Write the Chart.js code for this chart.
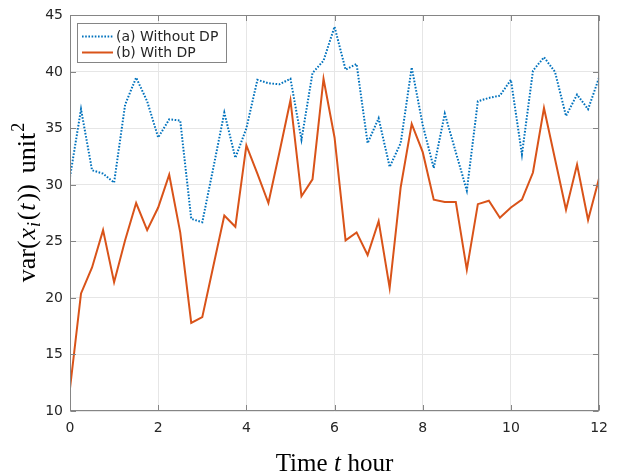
<!DOCTYPE html>
<html>
<head>
<meta charset="utf-8">
<script src="https://cdn.jsdelivr.net/npm/chart.js@4/dist/chart.umd.min.js"></script>
<style>
  html, body { margin: 0; padding: 0; background: #fff; }
  #wrap { width: 617px; height: 476px; }
</style>
</head>
<body>
<div id="wrap"><canvas id="varChart"></canvas></div>
<script>
// time in hours (one sample every 15 min)
const hours = [0, 0.25, 0.5, 0.75, 1, 1.25, 1.5, 1.75, 2, 2.25, 2.5, 2.75, 3, 3.25, 3.5, 3.75,
  4, 4.25, 4.5, 4.75, 5, 5.25, 5.5, 5.75, 6, 6.25, 6.5, 6.75, 7, 7.25, 7.5, 7.75,
  8, 8.25, 8.5, 8.75, 9, 9.25, 9.5, 9.75, 10, 10.25, 10.5, 10.75, 11, 11.25, 11.5, 11.75, 12];

const withoutDP = [30.7, 36.7, 31.3, 31.0, 30.2, 37.1, 39.5, 37.4, 34.2, 35.8, 35.7, 27.0, 26.7, 31.5, 36.4, 32.4,
  35.0, 39.3, 39.0, 38.9, 39.4, 34.0, 39.9, 41.0, 44.0, 40.2, 40.7, 33.7, 35.9, 31.6, 33.7, 40.4,
  35.3, 31.5, 36.3, 32.9, 29.5, 37.4, 37.7, 37.9, 39.3, 32.7, 40.1, 41.3, 40.0, 36.1, 38.0, 36.7, 39.5];

const withDP = [12.0, 20.4, 22.7, 26.0, 21.4, 25.1, 28.4, 26.0, 28.0, 30.9, 25.8, 17.8, 18.3, 22.8, 27.3, 26.3,
  33.5, 31.0, 28.4, 32.9, 37.5, 29.0, 30.5, 39.4, 34.2, 25.1, 25.8, 23.8, 26.8, 20.9, 29.8, 35.4,
  32.9, 28.7, 28.5, 28.5, 22.5, 28.3, 28.6, 27.1, 28.0, 28.7, 31.1, 36.8, 32.3, 27.8, 31.8, 26.9, 30.6];

const seriesLabels = ['(a) Without DP', '(b) With DP'];
const xTicks = [0, 2, 4, 6, 8, 10, 12];
const yTicks = [10, 15, 20, 25, 30, 35, 40, 45];

const BLUE = '#0072BD';
const ORANGE = '#D95319';
const AXIS = '#858585';
const TICKFONT = '14px "DejaVu Sans"';
const SERIF = '"Liberation Serif", "DejaVu Serif", serif';

function pts(ys) {
  return hours.map((h, i) => ({ x: h, y: ys[i] }));
}

// pieces of mixed-font text drawn one after the other
function pieceWidth(ctx, pieces) {
  let w = 0;
  pieces.forEach(p => { ctx.font = p.font; w += ctx.measureText(p.text).width + (p.gap || 0); });
  return w;
}
function drawPieces(ctx, pieces, x, y) {
  pieces.forEach(p => {
    ctx.font = p.font;
    ctx.fillText(p.text, x, y + (p.dy || 0));
    x += ctx.measureText(p.text).width + (p.gap || 0);
  });
}

const matlabFrame = {
  id: 'matlabFrame',
  afterDraw(chart) {
    const ctx = chart.ctx;
    const a = chart.chartArea;
    const xs = chart.scales.x, ys = chart.scales.y;
    const L = Math.round(a.left) + 0.5, R = Math.round(a.right) - 0.5;
    const T = Math.round(a.top) + 0.5, B = Math.round(a.bottom) - 0.5;
    ctx.save();
    ctx.strokeStyle = AXIS;
    ctx.lineWidth = 1;
    ctx.strokeRect(L, T, R - L, B - T);
    // inward ticks on all four sides
    const tl = 5.5;
    ctx.beginPath();
    xTicks.forEach(v => {
      const px = Math.round(xs.getPixelForValue(v)) + 0.5;
      ctx.moveTo(px, B); ctx.lineTo(px, B - tl);
      ctx.moveTo(px, T); ctx.lineTo(px, T + tl);
    });
    yTicks.forEach(v => {
      const py = Math.round(ys.getPixelForValue(v)) + 0.5;
      ctx.moveTo(L, py); ctx.lineTo(L + tl, py);
      ctx.moveTo(R, py); ctx.lineTo(R - tl, py);
    });
    ctx.stroke();

    // legend box
    const lx = 77.5, ly = 23.5, lw = 149, lh = 39;
    ctx.fillStyle = '#fff';
    ctx.fillRect(lx, ly, lw, lh);
    ctx.strokeStyle = AXIS;
    ctx.strokeRect(lx, ly, lw, lh);
    const rows = [
      { color: BLUE, dash: [1.6, 1.6], y: 36.5 },
      { color: ORANGE, dash: [], y: 52.5 }
    ];
    rows.forEach((r, i) => {
      ctx.strokeStyle = r.color;
      ctx.lineWidth = 2;
      ctx.setLineDash(r.dash);
      ctx.beginPath();
      ctx.moveTo(82, r.y); ctx.lineTo(113, r.y);
      ctx.stroke();
      ctx.setLineDash([]);
      ctx.fillStyle = '#262626';
      ctx.font = TICKFONT;
      ctx.textBaseline = 'middle';
      ctx.textAlign = 'left';
      ctx.fillText(seriesLabels[i], 116, r.y + 0.5);
    });

    // axis titles (mixed upright / italic, like LaTeX)
    ctx.fillStyle = '#000';
    ctx.textBaseline = 'alphabetic';
    ctx.textAlign = 'left';
    const xUp = '25px ' + SERIF, xIt = 'italic 25px ' + SERIF;
    const xt = [
      { text: 'Time', font: xUp, gap: 6.5 },
      { text: 't', font: xIt, gap: 6.5 },
      { text: 'hour', font: xUp }
    ];
    const xw = pieceWidth(ctx, xt);
    drawPieces(ctx, xt, (a.left + a.right) / 2 - xw / 2, 471);

    const up = '26px ' + SERIF, it = 'italic 26px ' + SERIF;
    const sub = 'italic 18px ' + SERIF, sup = '18px ' + SERIF;
    const yt = [
      { text: 'var(', font: up, gap: 1 },
      { text: 'x', font: it, gap: 1 },
      { text: 'i', font: sub, dy: 5, gap: 1.5 },
      { text: '(', font: up, gap: 1 },
      { text: 't', font: it, gap: 2 },
      { text: '))', font: up, gap: 11 },
      { text: 'unit', font: up, gap: 1 },
      { text: '2', font: sup, dy: -11 }
    ];
    const yw = pieceWidth(ctx, yt);
    ctx.translate(35, 202.5);
    ctx.rotate(-Math.PI / 2);
    drawPieces(ctx, yt, -yw / 2, 0);
    ctx.restore();
  }
};

new Chart(document.getElementById('varChart'), {
  type: 'line',
  data: {
    datasets: [
      {
        label: seriesLabels[0],
        data: pts(withoutDP),
        borderColor: BLUE,
        borderWidth: 2,
        borderDash: [1.6, 1.6],
        pointRadius: 0,
        tension: 0,
        fill: false
      },
      {
        label: seriesLabels[1],
        data: pts(withDP),
        borderColor: ORANGE,
        borderWidth: 2,
        pointRadius: 0,
        tension: 0,
        fill: false
      }
    ]
  },
  options: {
    responsive: true,
    maintainAspectRatio: false,
    animation: false,
    layout: { padding: { top: 14, right: 8, left: 0, bottom: 0 } },
    plugins: {
      legend: { display: false },
      tooltip: { enabled: false }
    },
    scales: {
      x: {
        type: 'linear',
        min: 0,
        max: 12,
        afterBuildTicks: s => { s.ticks = xTicks.map(v => ({ value: v })); },
        afterFit: s => { s.height = 65; },
        grid: { color: '#e6e6e6', drawTicks: false },
        border: { display: false },
        ticks: { color: '#262626', font: { family: 'DejaVu Sans', size: 14 }, padding: 9, maxRotation: 0 }
      },
      y: {
        min: 10,
        max: 45,
        afterBuildTicks: s => { s.ticks = yTicks.map(v => ({ value: v })); },
        afterFit: s => { s.width = 70; },
        grid: { color: '#e6e6e6', drawTicks: false },
        border: { display: false },
        ticks: { color: '#262626', font: { family: 'DejaVu Sans', size: 14 }, padding: 7 }
      }
    }
  },
  plugins: [matlabFrame]
});
</script>
</body>
</html>
